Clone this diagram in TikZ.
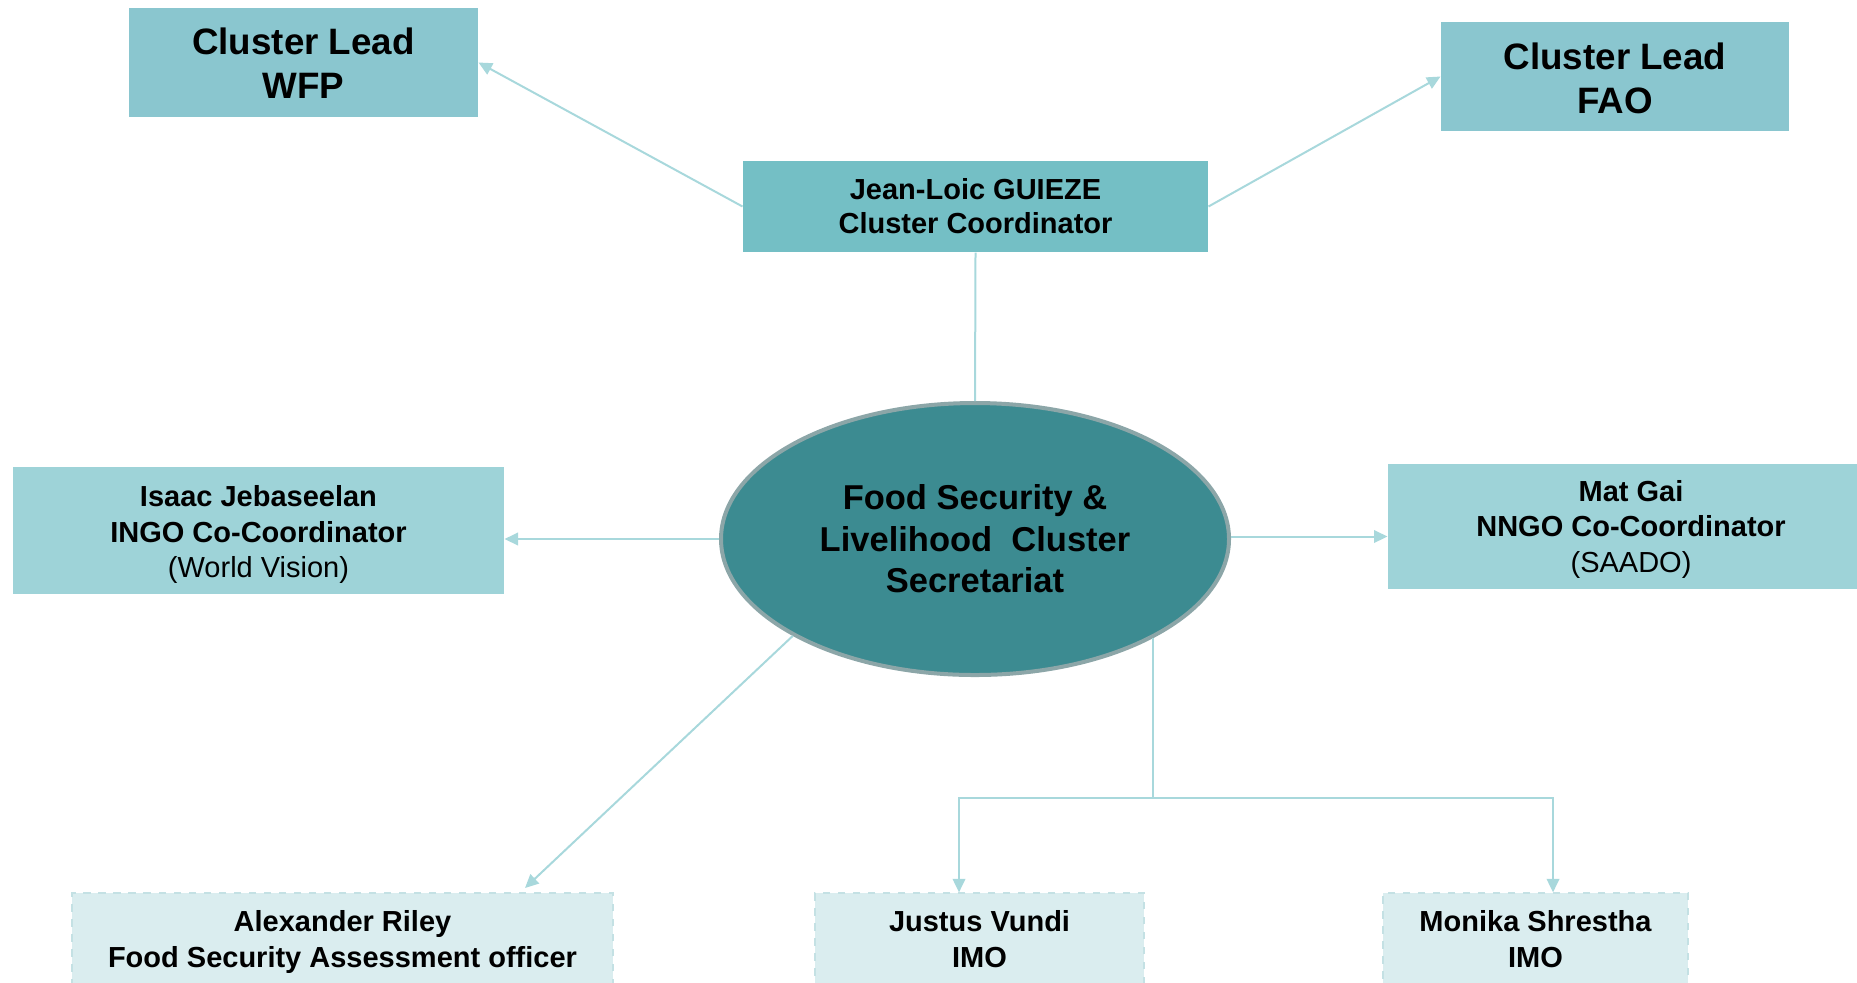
\documentclass[tikz,border=0pt]{standalone}
\usepackage{fontspec}
\setmainfont{Liberation Sans}
\usetikzlibrary{arrows.meta,shapes.geometric,calc}
\definecolor{leadfill}{HTML}{8AC6CF}
\definecolor{coordfill}{HTML}{74BFC5}
\definecolor{cofill}{HTML}{9ED3D8}
\definecolor{ellfill}{HTML}{3C8B91}
\definecolor{ellborder}{HTML}{8CA6A8}
\definecolor{staffill}{HTML}{DAEDEF}
\definecolor{staffborder}{HTML}{C4E1E4}
\definecolor{connc}{HTML}{A8D8DC}
% lower a centred multi-line text block by #1 (strut on the first line)
\newcommand\dnby[1]{\rule{0pt}{\dimexpr\fontcharht\font`G+2\dimexpr#1\relax\relax}}
\tikzset{
  box/.style={rectangle, inner sep=0pt, align=center, text=black},
  leadbox/.style={box, fill=leadfill, font=\fontsize{14.7}{17.6}\selectfont\bfseries},
  coordbox/.style={box, fill=coordfill, font=\fontsize{11.6}{13.6}\selectfont\bfseries},
  cobox/.style={box, fill=cofill, font=\fontsize{11.6}{14.2}\selectfont},
  staffbox/.style={box, fill=staffill, draw=staffborder, dashed, line width=0.5pt, font=\fontsize{11.6}{14.4}\selectfont\bfseries},
  hub/.style={ellipse, inner sep=0pt, fill=ellfill, draw=ellborder, line width=1.6pt, align=center, font=\fontsize{13.8}{16.6}\selectfont\bfseries},
  conn/.style={draw=connc, line width=0.8pt},
  arr/.style={conn, -{Triangle[length=5.4pt,width=5pt]}},
}
\begin{document}
\begin{tikzpicture}[x=0.4pt,y=-0.4pt]
\useasboundingbox (0,0) rectangle (1857,982);
\clip (0,0) rectangle (1857,982);

\node[leadbox, minimum width=139.6pt, minimum height=43.6pt] (wfp) at (303.5,62.5) {\dnby{0.5pt}Cluster Lead\\WFP};
\node[leadbox, minimum width=139.2pt, minimum height=43.6pt] (fao) at (1615,76.5) {\dnby{1pt}Cluster Lead\\FAO};
\node[coordbox, minimum width=186pt, minimum height=36.4pt] (coord) at (975.5,206.5) {Jean-Loic GUIEZE\\Cluster Coordinator};
\node[hub, minimum width=203.2pt, minimum height=108.8pt] (hub) at (975,539) {Food Security \&\\Livelihood\ \ Cluster\\Secretariat};
\node[cobox, minimum width=196.4pt, minimum height=50.8pt] (isaac) at (258.5,530.5) {\dnby{2pt}\textbf{Isaac Jebaseelan}\\\textbf{INGO Co-Coordinator}\\(World Vision)};
\node[cobox, minimum width=194.4pt, minimum height=50pt] (mat) at (1631,526.5) {\dnby{1.4pt}\textbf{Mat Gai}\\\textbf{NNGO Co-Coordinator}\\(SAADO)};
\node[staffbox, minimum width=216.4pt, minimum height=36.8pt] (alex) at (342.5,939) {\dnby{1.4pt}Alexander Riley\\Food Security Assessment officer};
\node[staffbox, minimum width=131.6pt, minimum height=36.8pt] (justus) at (979.5,939) {Justus Vundi\\IMO};
\node[staffbox, minimum width=122pt, minimum height=36.8pt] (monika) at (1535.5,939) {Monika Shrestha\\IMO};

\coordinate (alexin) at (525,888);
\coordinate (busL) at (959,798);
\coordinate (busR) at (1553,798);

\draw[arr] (coord.west) -- (wfp.east);
\draw[arr] (coord.east) -- (fao.west);
\draw[conn] (coord.south) -- (hub.north);
\draw[arr] (hub.west) -- (hub.west -| isaac.east);
\draw[arr] ([yshift=1pt]hub.east) -- ([yshift=1pt]hub.east -| mat.west);
\draw[arr] (hub.208.5) -- (alexin);
\draw[conn] (hub.331.5) -- (hub.331.5 |- busL);
\draw[arr] (hub.331.5 |- busL) -- (busL) -- (busL |- justus.north);
\draw[arr] (hub.331.5 |- busL) -- (busR) -- (busR |- monika.north);
\end{tikzpicture}
\end{document}
